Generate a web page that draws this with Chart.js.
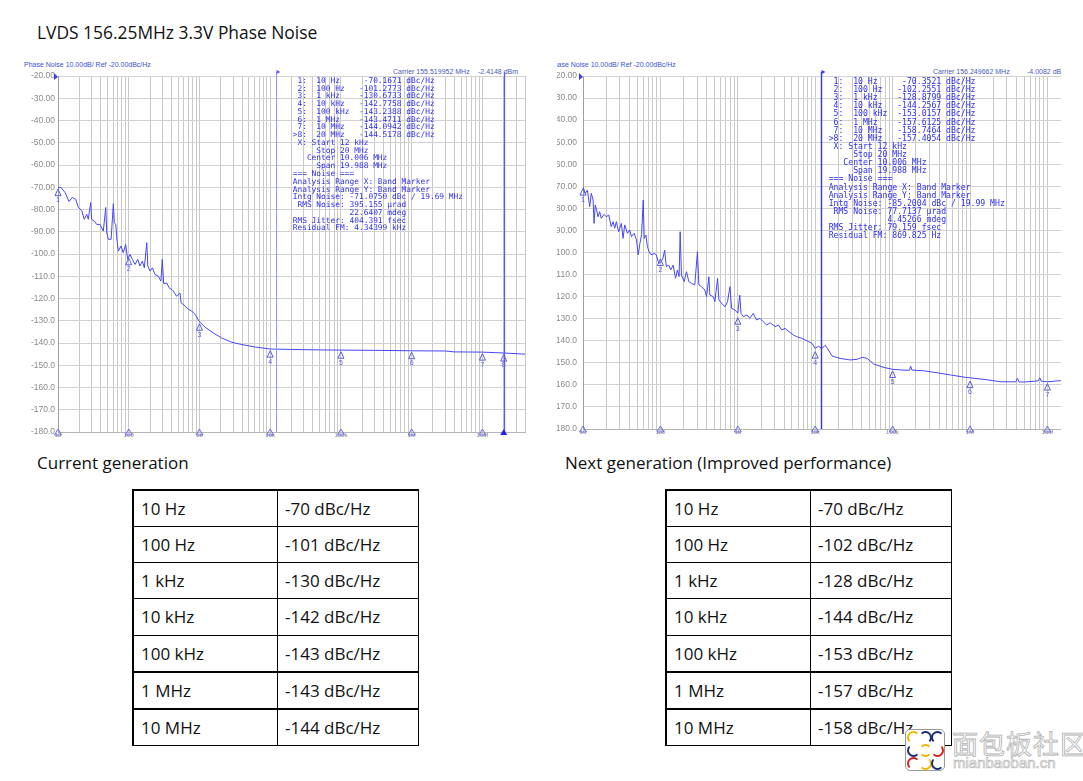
<!DOCTYPE html>
<html>
<head>
<meta charset="utf-8">
<script src="https://cdn.jsdelivr.net/npm/chart.js"></script>
<style>
  html, body { margin:0; padding:0; background:#fff; }
  body { width:1083px; height:781px; overflow:hidden; position:relative; }
  .abs { position:absolute; white-space:pre; }
  .title { left:37px; top:20px; font:17.4px "Open Sans"; color:#111; }
  .cap { font:17px "Open Sans"; color:#111; top:451px; }
  .hdr { font:7px "Liberation Sans"; color:#3d4fd6; }
  .carrier { font:7px "Liberation Sans"; color:#4a5ab8; }
  .mk { font-family:"DejaVu Sans Mono"; color:#2e2ef0; }
  table.t { position:absolute; top:489px; width:287px; height:257px; border-collapse:collapse; }
  table.t td { border:1px solid #000; font:17px "Open Sans"; color:#111; padding:0 0 0 7px; height:35px; vertical-align:middle; }
  table.t td.c1 { width:136px; border-left:2px solid #000; }
  table.t tr:first-child td { border-top:2px solid #000; }
  table.t tr.thick td { border-top:2px solid #000; }
  .clip { position:absolute; left:557px; top:0; width:504px; height:450px; overflow:hidden; }
  .wm1 { left:952px; top:724px; font:26px "Noto Sans CJK SC"; color:#fff; -webkit-text-stroke:0.8px #b0b0b0; letter-spacing:1px; }
  .wm2 { left:953px; top:754px; font:15px "Liberation Sans"; color:#fff; -webkit-text-stroke:0.7px #b8b8b8; }
  .logo { position:absolute; left:905px; top:729px; width:38px; height:40px; border:1.5px solid #999; border-radius:5px; background:#fff; overflow:hidden; }
  .arc { position:absolute; width:9px; height:9px; border:2.5px solid; border-radius:50%; }
</style>
</head>
<body>
<div class="abs title">LVDS 156.25MHz 3.3V Phase Noise</div>

<!-- left panel -->
<div class="abs hdr" style="left:24px;top:61px;">Phase Noise 10.00dB/ Ref -20.00dBc/Hz</div>
<div class="abs carrier" style="left:393px;top:68px;">Carrier 155.519952 MHz</div>
<div class="abs carrier" style="left:478px;top:68px;">-2.4148 dBm</div>
<canvas id="c1" width="503" height="372" style="position:absolute;left:24px;top:70px;"></canvas>
<div class="abs mk" id="mk1" style="left:292.7px;top:76.8px;font-size:7.87px;line-height:7.77px;"></div>

<!-- right panel (cropped like the reference) -->
<div class="clip">
  <div class="abs hdr" style="left:-8px;top:61px;">Phase Noise 10.00dB/ Ref -20.00dBc/Hz</div>
  <div class="abs carrier" style="left:376px;top:68px;">Carrier 156.249662 MHz</div>
  <div class="abs carrier" style="left:470px;top:68px;">-4.0082 dBm</div>
  <canvas id="c2" width="547" height="369" style="position:absolute;left:-8px;top:70px;"></canvas>
  <div class="abs mk" id="mk2" style="left:271.7px;top:76.9px;font-size:8.14px;line-height:8.12px;"></div>
</div>

<div class="abs cap" style="left:37px;">Current generation</div>
<div class="abs cap" style="left:565px;">Next generation (Improved performance)</div>

<table class="t" id="t1" style="left:132px;"></table>
<table class="t" id="t2" style="left:665px;"></table>

<div class="logo">
  <div class="arc" style="left:1px;top:1px;border-color:#f2b600 transparent transparent #f2b600;"></div>
  <div class="arc" style="left:13px;top:1px;border-color:#1b2b70 #1b2b70 transparent transparent;"></div>
  <div class="arc" style="left:25px;top:1px;border-color:#1b2b70 transparent transparent #1b2b70;"></div>
  <div class="arc" style="left:1px;top:14px;border-color:transparent transparent #1b2b70 #1b2b70;"></div>
  <div class="arc" style="left:13px;top:14px;border-color:#f2b600 transparent #f2b600 transparent;"></div>
  <div class="arc" style="left:25px;top:14px;border-color:transparent #d42020 #d42020 transparent;"></div>
  <div class="arc" style="left:1px;top:27px;border-color:#d42020 transparent transparent #d42020;"></div>
  <div class="arc" style="left:13px;top:27px;border-color:transparent #f2b600 #f2b600 transparent;"></div>
  <div class="arc" style="left:25px;top:27px;border-color:transparent transparent #1b2b70 #1b2b70;"></div>
</div>
<div class="abs wm1">面包板社区</div>
<div class="abs wm2">mianbaoban.cn</div>

<script>
// ---------------- data ----------------
const currentFreq = [10,11,12.6,14.3,15.9,17.8,19.4,21.6,23.5,25.5,26.8,29,29.9,32.6,35.3,39.2,43.7,47.3,48.9,51.6,56.3,60.6,62.6,65.5,68.4,71.3,77.8,83.6,90.5,96.7,104.3,112.4,122.9,134,144,155.6,166,180,186,200,216,235,262,285,298,312,345,372,408,427,475,530,550,628,700,780,870,985,1200,1570,2050,2870,3990,6100,10000,20000,50000,100000,300000,1000000,3000000,4000000,10000000,20000000,40000000];
const currentDb = [-70.2,-70.1,-72.4,-76.4,-74.6,-75.4,-79.1,-80.4,-84.4,-82.2,-84.4,-76.9,-84.4,-85.2,-86.7,-86.7,-89.7,-79.1,-90.5,-93.4,-93.4,-77.4,-85.9,-86.7,-94.2,-98.7,-96.4,-99.4,-95.7,-102.4,-100.2,-102.4,-104.7,-102.4,-105.4,-103.2,-106.2,-94.9,-105.4,-107.7,-106.2,-109.2,-110,-112.2,-102.4,-113.3,-113,-115.2,-116,-116.7,-119,-117.5,-121.9,-123.4,-124.9,-125.7,-127.2,-130.2,-132.9,-135.5,-137.7,-139.7,-140.7,-141.8,-142.7,-142.9,-143.1,-143.2,-143.3,-143.5,-143.6,-144.0,-144.1,-144.5,-145.0];

const nextFreq = [10,10.7,11.4,12.2,12.8,13.5,13.9,14.4,15.0,15.6,16.4,17.2,18.7,20.0,21.5,23.2,24.5,25.7,27.0,28.9,31.3,32.9,34.6,37.5,40.2,42.3,45.8,49.1,51.7,54.4,57.1,60.0,61.8,64.9,68.0,72.9,78.1,82.8,88.6,95.1,100.9,108,113.6,119.3,128,136,146,157,166,174.5,180,187,203,217,233,252,278,301,314,340,375,395,423,435,480,506,548,570,618,683,737,792,832,921,1000,1060,1100,1180,1310,1430,1580,1750,1930,2140,2370,2610,3040,3360,3690,4080,4590,5230,5790,6740,7460,8250,9120,10000,11000,12200,13500,14400,16500,21000,28200,34700,40400,46900,57200,77400,101000,140000,165000,171000,178000,251000,374000,559000,873000,995000,1520000,2500000,3900000,4100000,4300000,5000000,7600000,8000000,8300000,10000000,14600000,20000000];
const nextDb = [-70.2,-73.2,-71.7,-79.2,-73.2,-76.2,-86.8,-78.5,-80.7,-83.8,-81.5,-84.5,-82.7,-83.8,-83.0,-88.3,-86.0,-89.0,-86.0,-90.6,-86.8,-93.6,-87.5,-91.3,-89.8,-92.8,-91.3,-94.3,-101.1,-95.8,-92.0,-76.2,-93.6,-92.1,-97.4,-100.4,-101.1,-100.4,-101.1,-104.9,-104.5,-102.6,-98.9,-106.4,-105.7,-107.9,-105.7,-111.7,-107.9,-110.9,-90.6,-110.2,-113.2,-108.7,-113.2,-114.0,-114.7,-99.6,-114.7,-115.5,-117.0,-120.0,-111.0,-119.3,-120.0,-122.3,-111.7,-121.5,-123.0,-124.6,-122.3,-115.5,-125.3,-126.1,-127.5,-119.3,-127.6,-129.1,-128.3,-129.8,-127.6,-130.6,-129.8,-131.4,-132.9,-131.8,-133.6,-132.9,-135.1,-134.4,-135.9,-137.4,-138.2,-138.9,-139.7,-140.4,-141.2,-143.5,-142.5,-143.5,-142.0,-143.5,-146.9,-148.0,-148.7,-148.4,-147.5,-148.0,-150.6,-152.1,-153.0,-153.3,-153.4,-151.5,-153.3,-153.6,-154.5,-155.5,-156.6,-156.8,-157.5,-158.6,-158.6,-157.0,-158.7,-158.7,-158.2,-156.8,-158.3,-158.6,-158.1,-157.4];

const markerFreq = [10,100,1e3,1e4,1e5,1e6,1e7,2e7];
const currentMarkerDb = [-70.1671,-101.2773,-130.6733,-142.7758,-143.2388,-143.4711,-144.0942,-144.5178];
const nextMarkerDb = [-70.3521,-102.2551,-128.8799,-144.2567,-153.0157,-157.6125,-158.7464,-157.4054];
const markerNames = ['10 Hz','100 Hz','1 kHz','10 kHz','100 kHz','1 MHz','10 MHz','20 MHz'];
const bandFreq = [12e3, 2e7];

const decadeTicks = [10,100,1e3,1e4,1e5,1e6,1e7];
const decadeLabels = ['10','100','1k','10k','100k','1M','10M'];
const minorMult = [2,3,4,5,6,7,8,9];
const xMin = 10, xMax = 4e7, yMin = -180, yMax = -20, yStep = 10;

const currentNoise = ['-71.0750 dBc / 19.69 MHz','395.155 µrad','22.6407 mdeg','404.391 fsec','4.34399 kHz'];
const nextNoise = ['-85.2004 dBc / 19.99 MHz','77.7137 µrad','4.45266 mdeg','79.159 fsec','869.825 Hz'];

const tableFreq = ['10 Hz','100 Hz','1 kHz','10 kHz','100 kHz','1 MHz','10 MHz'];
const currentTable = [-70,-101,-130,-142,-143,-143,-144];
const nextTable = [-70,-102,-128,-144,-153,-157,-158];

// ---------------- text blocks ----------------
function pad(s, n) { while (s.length < n) s += ' '; return s; }
function padL(s, n) { while (s.length < n) s = ' ' + s; return s; }
function markerText(vals, noise) {
  const lines = markerFreq.map((f, i) =>
    (i === 7 ? '>' : ' ') + (i + 1) + ':  ' + pad(markerNames[i], 9) + padL(vals[i].toFixed(4), 9) + ' dBc/Hz');
  lines.push(' X: Start 12 kHz');
  lines.push('     Stop 20 MHz');
  lines.push('   Center 10.006 MHz');
  lines.push('     Span 19.988 MHz');
  lines.push('=== Noise ===');
  lines.push('Analysis Range X: Band Marker');
  lines.push('Analysis Range Y: Band Marker');
  lines.push('Intg Noise: ' + noise[0]);
  lines.push(' RMS Noise: ' + noise[1]);
  lines.push('            ' + noise[2]);
  lines.push('RMS Jitter: ' + noise[3]);
  lines.push('Residual FM: ' + noise[4]);
  return lines.join('\n');
}
document.getElementById('mk1').textContent = markerText(currentMarkerDb, currentNoise);
document.getElementById('mk2').textContent = markerText(nextMarkerDb, nextNoise);

function fillTable(id, vals) {
  const t = document.getElementById(id);
  tableFreq.forEach((f, i) => {
    const tr = document.createElement('tr');
    if (i >= 5) tr.className = 'thick';
    const a = document.createElement('td'); a.className = 'c1'; a.textContent = f;
    const b = document.createElement('td'); b.textContent = vals[i] + ' dBc/Hz';
    tr.appendChild(a); tr.appendChild(b); t.appendChild(tr);
  });
}
fillTable('t1', currentTable);
fillTable('t2', nextTable);

// ---------------- charts ----------------
Chart.defaults.animation = false;
Chart.defaults.font.family = '"Liberation Sans", Arial, sans-serif';

function decorPlugin(markerDb, o) {
  return {
    id: 'decor',
    afterDatasetsDraw(chart) {
      const {ctx, chartArea: a, scales: {x, y}} = chart;
      ctx.save();
      // band lines
      bandFreq.forEach((f, i) => {
        const px = Math.round(x.getPixelForValue(f)) + 0.5;
        ctx.strokeStyle = i === 0 ? o.band0 : o.band1;
        ctx.lineWidth = i === 0 ? o.w0 : o.w1;
        ctx.beginPath(); ctx.moveTo(px, a.top - 4); ctx.lineTo(px, a.bottom); ctx.stroke();
        if (i === 0) {
          ctx.fillStyle = o.band1;
          ctx.beginPath(); ctx.moveTo(px, a.top - 6); ctx.lineTo(px + 4, a.top - 4); ctx.lineTo(px, a.top - 2); ctx.closePath(); ctx.fill();
        }
      });
      // reference level arrow
      ctx.fillStyle = '#3a3af0';
      ctx.beginPath(); ctx.moveTo(a.left - 4, a.top - 3); ctx.lineTo(a.left, a.top + 1); ctx.lineTo(a.left - 4, a.top + 4); ctx.closePath(); ctx.fill();
      // markers
      ctx.font = '7px "Liberation Sans"';
      ctx.textAlign = 'center'; ctx.textBaseline = 'middle';
      ctx.lineWidth = 1;
      markerFreq.forEach((f, i) => {
        const px = x.getPixelForValue(f), py = y.getPixelForValue(markerDb[i]);
        ctx.strokeStyle = o.mk; ctx.fillStyle = o.mk;
        ctx.beginPath(); ctx.moveTo(px, py + 1.5); ctx.lineTo(px - 3, py + 8); ctx.lineTo(px + 3, py + 8); ctx.closePath(); ctx.stroke();
        ctx.fillText(String(i + 1), px, py + 12.5);
        const by = a.bottom;
        ctx.strokeStyle = o.axmk; ctx.fillStyle = i === 7 ? '#2222ee' : o.axmk;
        ctx.beginPath(); ctx.moveTo(px, by - 3); ctx.lineTo(px - 3.5, by + 3); ctx.lineTo(px + 3.5, by + 3); ctx.closePath();
        if (i === 7) ctx.fill(); else ctx.stroke();
      });
      ctx.restore();
    }
  };
}

function makeChart(id, freq, db, markerDb, yPad, o) {
  return new Chart(document.getElementById(id), {
    type: 'line',
    data: { datasets: [{
      data: freq.map((f, i) => ({x: f, y: db[i]})),
      borderColor: o.trace, borderWidth: 1, pointRadius: 0, tension: 0, fill: false
    }]},
    options: {
      responsive: false, maintainAspectRatio: false,
      layout: { padding: { top: 6, right: 2, bottom: 0, left: 0 } },
      plugins: { legend: { display: false }, tooltip: { enabled: false } },
      events: [],
      scales: {
        x: {
          type: 'logarithmic', min: xMin, max: xMax,
          afterBuildTicks(s) {
            const t = [];
            decadeTicks.forEach(d => {
              t.push({value: d});
              minorMult.forEach(m => { if (d * m <= xMax) t.push({value: d * m}); });
            });
            s.ticks = t;
          },
          afterFit(s) { s.height = 10; s.paddingLeft = 0; s.paddingRight = 0; },
          grid: { color: '#c9c9c9', lineWidth: 1, drawTicks: false, tickLength: 0 },
          border: { color: '#b4b4b4' },
          ticks: {
            autoSkip: false, maxRotation: 0, padding: 0,
            font: { size: 6 }, color: '#8a8a8a',
            callback(v) { const i = decadeTicks.indexOf(v); return i >= 0 ? decadeLabels[i] : ''; }
          }
        },
        y: {
          type: 'linear', min: yMin, max: yMax,
          afterFit(s) { s.width = 34; s.paddingTop = 0; s.paddingBottom = 0; },
          grid: { color: '#d2d2d2', lineWidth: 1, drawTicks: false, tickLength: 0 },
          border: { color: '#a0a0a0' },
          ticks: {
            stepSize: yStep, padding: yPad, font: { size: 8.5 }, color: '#8a8a8a',
            callback(v) { return v > -100 ? v.toFixed(2) : v.toFixed(1); }
          }
        }
      }
    },
    plugins: [decorPlugin(markerDb, o)]
  });
}

makeChart('c1', currentFreq, currentDb, currentMarkerDb, 3,
  { trace: 'rgb(70,70,250)', band0: '#9494ff', band1: '#5a5aff', w0: 1, w1: 1.3, mk: '#5a5ae0', axmk: '#6a6ae8' });
makeChart('c2', nextFreq, nextDb, nextMarkerDb, 6,
  { trace: 'rgb(70,70,250)', band0: '#3434f0', band1: '#3434f0', w0: 1.4, w1: 1.4, mk: '#5a5ae0', axmk: '#6a6ae8' });
</script>
</body>
</html>
